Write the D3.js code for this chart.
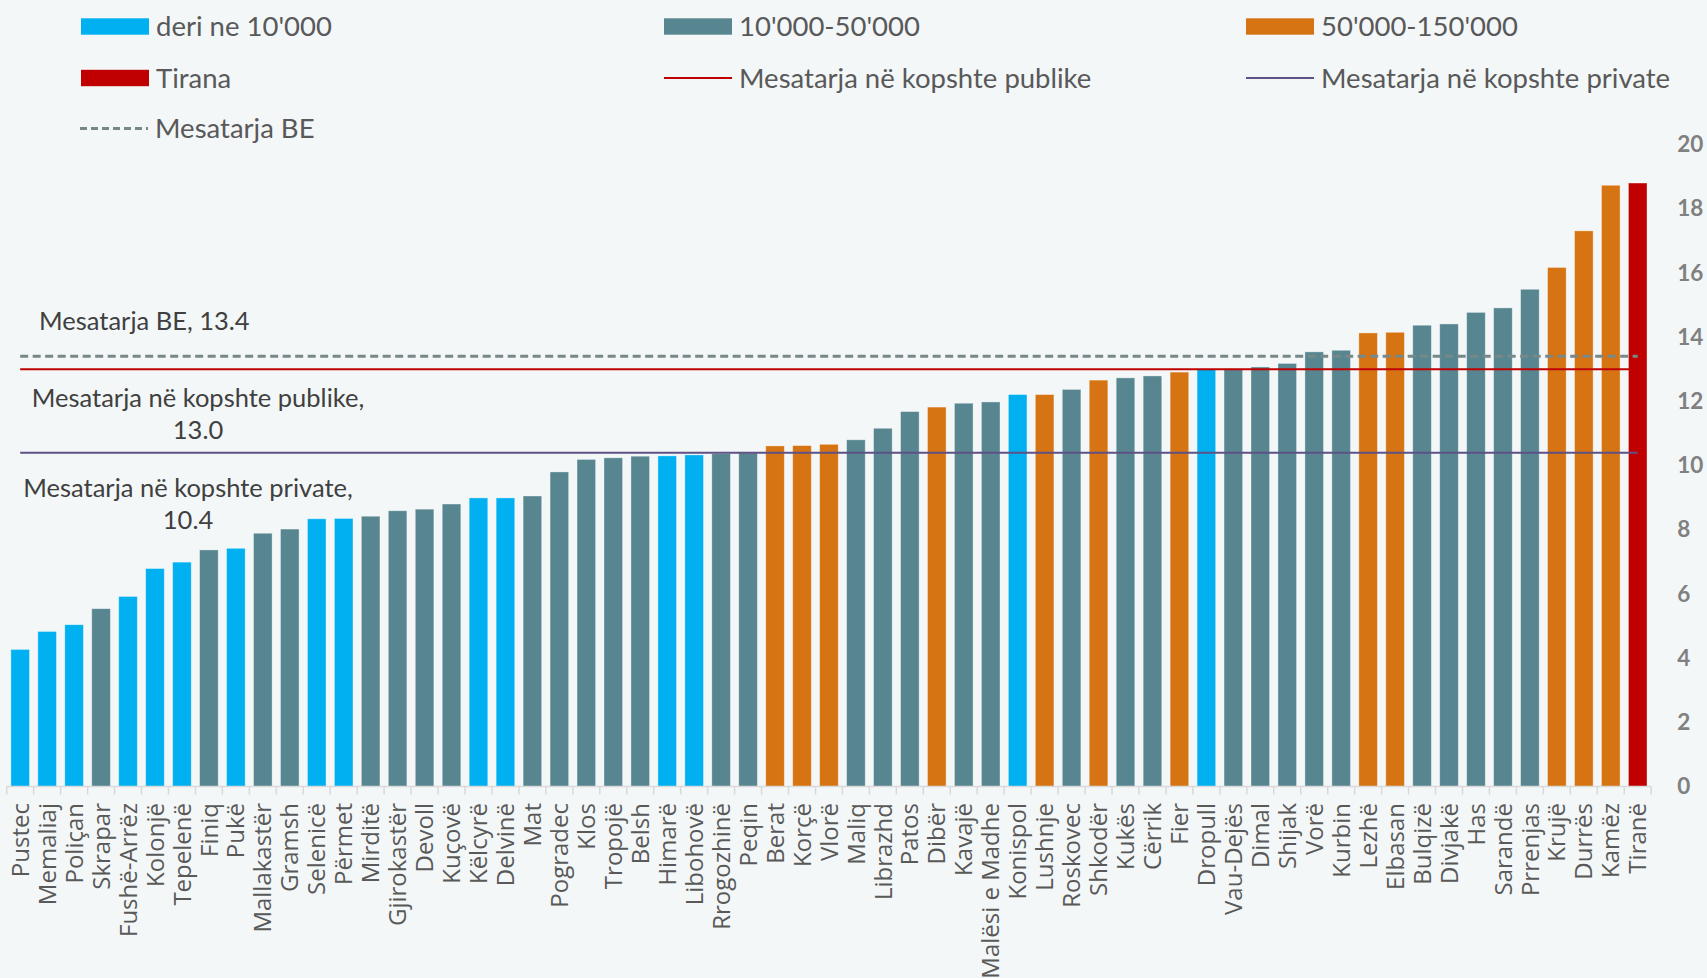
<!DOCTYPE html>
<html>
<head>
<meta charset="utf-8">
<script src="https://cdn.jsdelivr.net/npm/d3@7"></script>
<style>
  html, body { margin: 0; padding: 0; background: #F3F7F8; }
  svg { display: block; }
</style>
</head>
<body>
<svg id="chart" width="1707" height="978"></svg>
<script>
// Municipalities, sorted by value
const municipalities = [
  "Pustec", "Memaliaj", "Poliçan", "Skrapar", "Fushë-Arrëz", "Kolonjë", "Tepelenë", "Finiq",
  "Pukë", "Mallakastër", "Gramsh", "Selenicë", "Përmet", "Mirditë", "Gjirokastër", "Devoll",
  "Kuçovë", "Këlcyrë", "Delvinë", "Mat", "Pogradec", "Klos", "Tropojë", "Belsh",
  "Himarë", "Libohovë", "Rrogozhinë", "Peqin", "Berat", "Korçë", "Vlorë", "Maliq",
  "Librazhd", "Patos", "Dibër", "Kavajë", "Malësi e Madhe", "Konispol", "Lushnje", "Roskovec",
  "Shkodër", "Kukës", "Cërrik", "Fier", "Dropull", "Vau-Dejës", "Dimal", "Shijak",
  "Vorë", "Kurbin", "Lezhë", "Elbasan", "Bulqizë", "Divjakë", "Has", "Sarandë",
  "Prrenjas", "Krujë", "Durrës", "Kamëz", "Tiranë"
];

const values = [
  4.27, 4.83, 5.04, 5.54, 5.92, 6.79, 6.99, 7.37,
  7.42, 7.89, 8.02, 8.34, 8.35, 8.42, 8.59, 8.64,
  8.80, 8.99, 8.99, 9.05, 9.80, 10.19, 10.24, 10.29,
  10.30, 10.33, 10.37, 10.39, 10.61, 10.62, 10.66, 10.80,
  11.16, 11.68, 11.82, 11.94, 11.98, 12.21, 12.21, 12.37,
  12.66, 12.73, 12.79, 12.91, 12.99, 13.01, 13.07, 13.18,
  13.54, 13.59, 14.13, 14.15, 14.37, 14.41, 14.77, 14.91,
  15.49, 16.17, 17.31, 18.73, 18.80
];

// Population size class of each municipality
const sizeClass = [
  "S", "S", "S", "M", "S", "S", "S", "M",
  "S", "M", "M", "S", "S", "M", "M", "M",
  "M", "S", "S", "M", "M", "M", "M", "M",
  "S", "S", "M", "M", "L", "L", "L", "M",
  "M", "M", "L", "M", "M", "S", "L", "M",
  "L", "M", "M", "L", "S", "M", "M", "M",
  "M", "M", "L", "L", "M", "M", "M", "M",
  "M", "L", "L", "L", "T"
];

const classKeys = ["S", "M", "L", "T"];
const classLabels = ["deri ne 10'000", "10'000-50'000", "50'000-150'000", "Tirana"];

// Reference averages
const averageKeys = ["be", "public", "private"];
const averageValues = [13.4, 13.0, 10.4];
const averageLegend = ["Mesatarja BE", "Mesatarja në kopshte publike", "Mesatarja në kopshte private"];
const averageNotes = [["Mesatarja BE, 13.4"], ["Mesatarja në kopshte publike,", "13.0"], ["Mesatarja në kopshte private,", "10.4"]];

const yTicks = [0, 2, 4, 6, 8, 10, 12, 14, 16, 18, 20];

const classColor = d3.scaleOrdinal()
  .domain(classKeys)
  .range(["#00B0F0", "#578691", "#D67413", "#C00000"]);

const lineStyle = {
  be: { stroke: "#778889", width: 3, dash: "8,4.5" },
  public: { stroke: "#C00000", width: 2, dash: null },
  private: { stroke: "#5E5185", width: 2, dash: null }
};

const svg = d3.select("#chart");
svg.append("rect").attr("width", 1707).attr("height", 978).attr("fill", "#F3F7F8");

const x = d3.scaleBand()
  .domain(municipalities)
  .range([6.7, 1651.2])
  .paddingInner(0.31)
  .paddingOuter(0.155);

const y = d3.scaleLinear()
  .domain([0, 20])
  .range([786.5, 144.5]);

const data = municipalities.map((m, i) => ({ name: m, value: values[i], cls: sizeClass[i] }));

// Bars
svg.append("g")
  .selectAll("rect")
  .data(data)
  .join("rect")
  .attr("x", d => x(d.name))
  .attr("y", d => y(d.value))
  .attr("width", x.bandwidth())
  .attr("height", d => y(0) - y(d.value))
  .attr("fill", d => classColor(d.cls))
  .attr("stroke", "#ffffff")
  .attr("stroke-opacity", 0.45)
  .attr("stroke-width", 0.8);

// Average lines, from first to last category centre
const xFirst = x(municipalities[0]) + x.bandwidth() / 2;
const xLast = x(municipalities[municipalities.length - 1]) + x.bandwidth() / 2;
svg.append("g")
  .selectAll("line")
  .data(averageKeys.map((k, i) => ({ key: k, value: averageValues[i] })))
  .join("line")
  .attr("x1", xFirst)
  .attr("x2", xLast)
  .attr("y1", d => y(d.value))
  .attr("y2", d => y(d.value))
  .attr("stroke", d => lineStyle[d.key].stroke)
  .attr("stroke-width", d => lineStyle[d.key].width)
  .attr("stroke-dasharray", d => lineStyle[d.key].dash);

// X axis: baseline, boundary ticks, rotated labels
const axisColor = "#D9D9D9";
const xAxis = svg.append("g").attr("transform", `translate(0,${y(0)})`);
const [r0, r1] = x.range();
xAxis.append("line")
  .attr("x1", r0).attr("x2", r1)
  .attr("stroke", axisColor).attr("stroke-width", 1.5);
const gap = x.step() - x.bandwidth();
const boundaries = municipalities.map(m => x(m) - gap / 2).concat([x(municipalities[municipalities.length - 1]) + x.bandwidth() + gap / 2]);
xAxis.selectAll("line.tick")
  .data(boundaries)
  .join("line")
  .attr("class", "tick")
  .attr("x1", d => d).attr("x2", d => d)
  .attr("y1", 0).attr("y2", 8)
  .attr("stroke", axisColor).attr("stroke-width", 1.5);

const xLabels = svg.append("g")
  .attr("transform", `translate(0,${y(0)})`)
  .call(d3.axisBottom(x).tickSize(0).tickPadding(0));
xLabels.select(".domain").remove();
xLabels.selectAll("text")
  .attr("transform", "rotate(-90)")
  .attr("text-anchor", "end")
  .attr("x", -16.5)
  .attr("y", 0)
  .attr("dy", "0.36em")
  .attr("fill", "#595959")
  .style("font-family", "'Open Sans', sans-serif")
  .style("font-size", "24px");

// Y axis on the right
const yAxis = svg.append("g")
  .attr("transform", `translate(${r1},0)`)
  .call(d3.axisRight(y).tickValues(yTicks).tickSize(0).tickPadding(26).tickFormat(d3.format("d")));
yAxis.select(".domain").remove();
yAxis.selectAll("text")
  .attr("fill", "#808080")
  .style("font-family", "Lato, sans-serif")
  .style("font-weight", "bold")
  .style("font-size", "22.5px");

// Annotations for the averages
const noteFont = { family: "Lato, sans-serif", size: "25.5px", color: "#404040" };
const noteLayout = [
  { x: 39, y: 321.5, anchor: "start" },
  { x: 198, y: 398.5, anchor: "middle" },
  { x: 188, y: 488.5, anchor: "middle" }
];
averageNotes.forEach((lines, i) => {
  const t = svg.append("text")
    .attr("x", noteLayout[i].x)
    .attr("y", noteLayout[i].y)
    .attr("text-anchor", noteLayout[i].anchor)
    .attr("fill", noteFont.color)
    .style("font-family", noteFont.family)
    .style("font-size", noteFont.size);
  lines.forEach((ln, j) => {
    t.append("tspan")
      .attr("x", noteLayout[i].x)
      .attr("dy", j === 0 ? "0.35em" : "31.5px")
      .text(ln);
  });
});

// Legend
const legendFont = { family: "Lato, sans-serif", size: "27.5px", color: "#595959" };
const legendItems = [
  { type: "box", key: "S", label: classLabels[0], x: 81, y: 26.5 },
  { type: "box", key: "M", label: classLabels[1], x: 664, y: 26.5 },
  { type: "box", key: "L", label: classLabels[2], x: 1246, y: 26.5 },
  { type: "box", key: "T", label: classLabels[3], x: 81, y: 78 },
  { type: "line", key: "public", label: averageLegend[1], x: 664, y: 78 },
  { type: "line", key: "private", label: averageLegend[2], x: 1246, y: 78 },
  { type: "line", key: "be", label: averageLegend[0], x: 80, y: 128.5 }
];
const lg = svg.append("g");
legendItems.forEach(item => {
  if (item.type === "box") {
    lg.append("rect")
      .attr("x", item.x).attr("y", item.y - 8.2)
      .attr("width", 68).attr("height", 16.4)
      .attr("fill", classColor(item.key));
  } else {
    const s = lineStyle[item.key];
    lg.append("line")
      .attr("x1", item.x).attr("x2", item.x + 68)
      .attr("y1", item.y).attr("y2", item.y)
      .attr("stroke", s.stroke)
      .attr("stroke-width", s.width)
      .attr("stroke-dasharray", s.dash ? "7,4" : null);
  }
  lg.append("text")
    .attr("x", item.x + 75)
    .attr("y", item.y)
    .attr("dy", "0.35em")
    .attr("fill", legendFont.color)
    .style("font-family", legendFont.family)
    .style("font-size", legendFont.size)
    .text(item.label);
});
</script>
</body>
</html>
